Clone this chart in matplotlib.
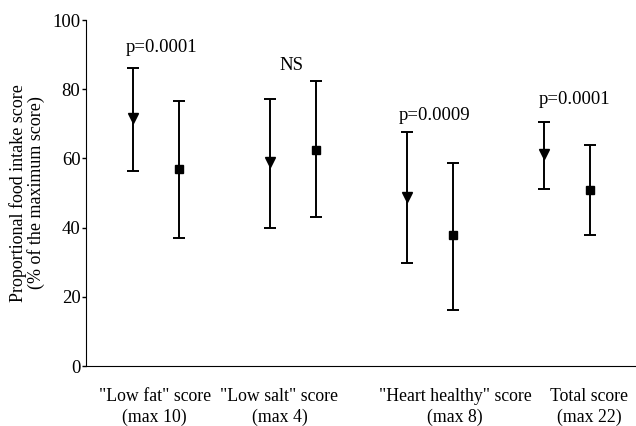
import matplotlib
matplotlib.use("Agg")
import matplotlib.pyplot as plt

# means and error bar ends (% of max score)
groups = ['"Low fat" score\n(max 10)', '"Low salt" score\n(max 4)',
          '"Heart healthy" score\n(max 8)', 'Total score\n(max 22)']
tri_mean = [71.6, 59.0, 48.9, 61.2]
tri_hi = [86.2, 77.1, 67.7, 70.5]
tri_lo = [56.4, 40.0, 29.9, 51.2]
sq_mean = [56.8, 62.4, 37.8, 50.8]
sq_hi = [76.7, 82.4, 58.7, 64.0]
sq_lo = [37.0, 43.1, 16.3, 37.8]
pvals = ["p=0.0001", "NS", "p=0.0009", "p=0.0001"]
p_y = [92.0, 87.0, 72.5, 77.0]

plt.rcParams["font.family"] = ["Liberation Serif", "DejaVu Serif"]

fig = plt.figure(figsize=(6.36, 4.26), dpi=100)
ax = fig.add_axes([0.1352, 0.1408, 0.8648, 0.8122])

xs = list(range(len(groups)))
off = 0.168
xt = [x - off for x in xs]
xq = [x + off for x in xs]
err_t = [[m - l for m, l in zip(tri_mean, tri_lo)], [h - m for m, h in zip(tri_mean, tri_hi)]]
err_q = [[m - l for m, l in zip(sq_mean, sq_lo)], [h - m for m, h in zip(sq_mean, sq_hi)]]
ax.errorbar(xt, tri_mean, yerr=err_t, fmt="v", color="black", ms=6.5,
            elinewidth=1.4, capsize=4.5, capthick=1.4)
ax.errorbar(xq, sq_mean, yerr=err_q, fmt="s", color="black", ms=6,
            elinewidth=1.4, capsize=4.5, capthick=1.4)

p_dx = [0.04, -0.01, 0.03, 0.05]
for x, dx, t, y in zip(xs, p_dx, pvals, p_y):
    ax.text(x + dx, y, t, ha="center", va="center", fontsize=13.5)

lab_x = [-0.01, 0.9, 2.18, 3.16]
for x, t in zip(lab_x, groups):
    ax.text(x, -6.3, t, ha="center", va="top", fontsize=12.8, linespacing=1.3)

ax.set_xlim(-0.51, 3.5)
ax.set_ylim(0, 100)
ax.set_yticks([0, 20, 40, 60, 80, 100])
ax.set_xticks([])
ax.tick_params(axis="y", labelsize=13.5, length=3, width=1, pad=1)
ax.spines["top"].set_visible(False)
ax.spines["right"].set_visible(False)
ax.set_ylabel("Proportional food intake score\n(% of the maximum score)",
              fontsize=13, linespacing=1.0, labelpad=5)

plt.savefig("out.png", dpi=100)
